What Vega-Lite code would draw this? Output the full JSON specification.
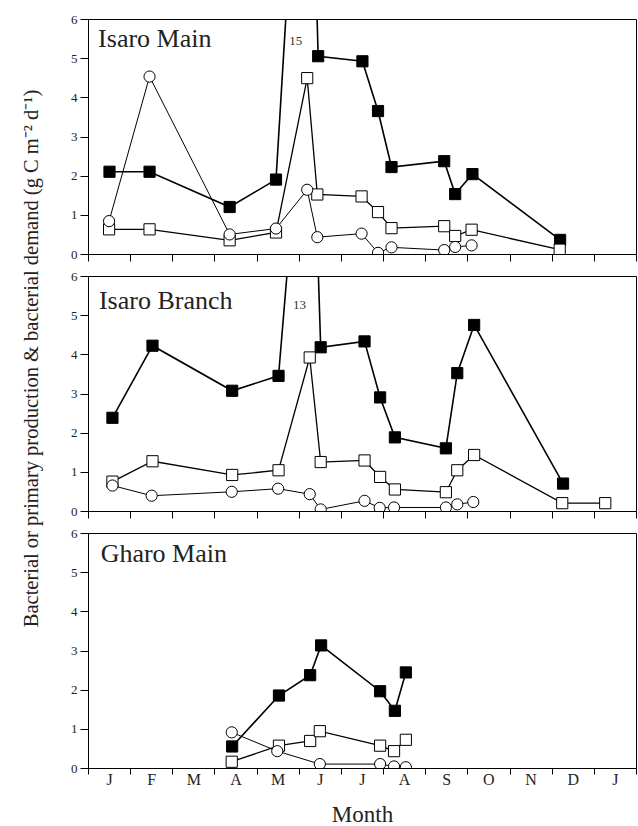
{
  "$schema": "https://vega.github.io/schema/vega-lite/v6.json",
  "background": "white",
  "padding": {"left": 20, "top": 12, "right": 0, "bottom": 0},
  "spacing": 22,
  "bounds": "flush",
  "config": {
    "view": {"stroke": "black", "strokeWidth": 1},
    "font": "Liberation Serif",
    "axis": {"grid": false, "domain": false, "tickColor": "black", "labelColor": "#222", "labelFont": "Liberation Serif", "titleFont": "Liberation Serif", "titleFontWeight": "normal", "titleColor": "#222"}
  },
  "datasets": {
    "panels": [
      {"panel": "Isaro Main", "peak": "15"},
      {"panel": "Isaro Branch", "peak": "13"},
      {"panel": "Gharo Main", "peak": ""}
    ],
    "obs": [
      {"panel": "Isaro Main", "series": "Bacterial demand", "month": 0.51, "value": 2.1},
      {"panel": "Isaro Main", "series": "Bacterial demand", "month": 1.46, "value": 2.1},
      {"panel": "Isaro Main", "series": "Bacterial demand", "month": 3.36, "value": 1.2},
      {"panel": "Isaro Main", "series": "Bacterial demand", "month": 4.46, "value": 1.9},
      {"panel": "Isaro Main", "series": "Bacterial demand", "month": 5.2, "value": 15},
      {"panel": "Isaro Main", "series": "Bacterial demand", "month": 5.46, "value": 5.05},
      {"panel": "Isaro Main", "series": "Bacterial demand", "month": 6.51, "value": 4.92},
      {"panel": "Isaro Main", "series": "Bacterial demand", "month": 6.88, "value": 3.65},
      {"panel": "Isaro Main", "series": "Bacterial demand", "month": 7.2, "value": 2.22},
      {"panel": "Isaro Main", "series": "Bacterial demand", "month": 8.45, "value": 2.37},
      {"panel": "Isaro Main", "series": "Bacterial demand", "month": 8.71, "value": 1.53},
      {"panel": "Isaro Main", "series": "Bacterial demand", "month": 9.12, "value": 2.04},
      {"panel": "Isaro Main", "series": "Bacterial demand", "month": 11.2, "value": 0.36},
      {"panel": "Isaro Main", "series": "Bacterial production", "month": 0.5, "value": 0.63},
      {"panel": "Isaro Main", "series": "Bacterial production", "month": 1.46, "value": 0.63},
      {"panel": "Isaro Main", "series": "Bacterial production", "month": 3.36, "value": 0.35},
      {"panel": "Isaro Main", "series": "Bacterial production", "month": 4.46, "value": 0.55},
      {"panel": "Isaro Main", "series": "Bacterial production", "month": 5.2, "value": 4.49},
      {"panel": "Isaro Main", "series": "Bacterial production", "month": 5.44, "value": 1.52},
      {"panel": "Isaro Main", "series": "Bacterial production", "month": 6.49, "value": 1.47},
      {"panel": "Isaro Main", "series": "Bacterial production", "month": 6.88, "value": 1.07},
      {"panel": "Isaro Main", "series": "Bacterial production", "month": 7.2, "value": 0.66},
      {"panel": "Isaro Main", "series": "Bacterial production", "month": 8.45, "value": 0.71},
      {"panel": "Isaro Main", "series": "Bacterial production", "month": 8.71, "value": 0.46},
      {"panel": "Isaro Main", "series": "Bacterial production", "month": 9.1, "value": 0.62},
      {"panel": "Isaro Main", "series": "Bacterial production", "month": 11.19, "value": 0.11},
      {"panel": "Isaro Main", "series": "Primary production", "month": 0.5, "value": 0.84},
      {"panel": "Isaro Main", "series": "Primary production", "month": 1.46, "value": 4.53},
      {"panel": "Isaro Main", "series": "Primary production", "month": 3.36, "value": 0.5},
      {"panel": "Isaro Main", "series": "Primary production", "month": 4.46, "value": 0.65},
      {"panel": "Isaro Main", "series": "Primary production", "month": 5.2, "value": 1.64},
      {"panel": "Isaro Main", "series": "Primary production", "month": 5.44, "value": 0.43},
      {"panel": "Isaro Main", "series": "Primary production", "month": 6.49, "value": 0.52},
      {"panel": "Isaro Main", "series": "Primary production", "month": 6.88, "value": 0.03},
      {"panel": "Isaro Main", "series": "Primary production", "month": 7.2, "value": 0.17},
      {"panel": "Isaro Main", "series": "Primary production", "month": 8.45, "value": 0.1},
      {"panel": "Isaro Main", "series": "Primary production", "month": 8.71, "value": 0.18},
      {"panel": "Isaro Main", "series": "Primary production", "month": 9.1, "value": 0.22},
      {"panel": "Isaro Branch", "series": "Bacterial demand", "month": 0.58, "value": 2.38},
      {"panel": "Isaro Branch", "series": "Bacterial demand", "month": 1.53, "value": 4.22},
      {"panel": "Isaro Branch", "series": "Bacterial demand", "month": 3.42, "value": 3.07},
      {"panel": "Isaro Branch", "series": "Bacterial demand", "month": 4.52, "value": 3.45},
      {"panel": "Isaro Branch", "series": "Bacterial demand", "month": 5.26, "value": 13},
      {"panel": "Isaro Branch", "series": "Bacterial demand", "month": 5.52, "value": 4.18},
      {"panel": "Isaro Branch", "series": "Bacterial demand", "month": 6.56, "value": 4.33},
      {"panel": "Isaro Branch", "series": "Bacterial demand", "month": 6.93, "value": 2.9},
      {"panel": "Isaro Branch", "series": "Bacterial demand", "month": 7.28, "value": 1.88},
      {"panel": "Isaro Branch", "series": "Bacterial demand", "month": 8.49, "value": 1.6},
      {"panel": "Isaro Branch", "series": "Bacterial demand", "month": 8.76, "value": 3.52},
      {"panel": "Isaro Branch", "series": "Bacterial demand", "month": 9.16, "value": 4.75},
      {"panel": "Isaro Branch", "series": "Bacterial demand", "month": 11.27, "value": 0.7},
      {"panel": "Isaro Branch", "series": "Bacterial production", "month": 0.58, "value": 0.75},
      {"panel": "Isaro Branch", "series": "Bacterial production", "month": 1.53, "value": 1.27},
      {"panel": "Isaro Branch", "series": "Bacterial production", "month": 3.42, "value": 0.92},
      {"panel": "Isaro Branch", "series": "Bacterial production", "month": 4.52, "value": 1.04},
      {"panel": "Isaro Branch", "series": "Bacterial production", "month": 5.26, "value": 3.92},
      {"panel": "Isaro Branch", "series": "Bacterial production", "month": 5.52, "value": 1.25},
      {"panel": "Isaro Branch", "series": "Bacterial production", "month": 6.56, "value": 1.29},
      {"panel": "Isaro Branch", "series": "Bacterial production", "month": 6.93, "value": 0.87},
      {"panel": "Isaro Branch", "series": "Bacterial production", "month": 7.28, "value": 0.55},
      {"panel": "Isaro Branch", "series": "Bacterial production", "month": 8.49, "value": 0.48},
      {"panel": "Isaro Branch", "series": "Bacterial production", "month": 8.76, "value": 1.04},
      {"panel": "Isaro Branch", "series": "Bacterial production", "month": 9.16, "value": 1.43},
      {"panel": "Isaro Branch", "series": "Bacterial production", "month": 11.25, "value": 0.2},
      {"panel": "Isaro Branch", "series": "Bacterial production", "month": 12.27, "value": 0.2},
      {"panel": "Isaro Branch", "series": "Primary production", "month": 0.58, "value": 0.65},
      {"panel": "Isaro Branch", "series": "Primary production", "month": 1.51, "value": 0.39},
      {"panel": "Isaro Branch", "series": "Primary production", "month": 3.41, "value": 0.49},
      {"panel": "Isaro Branch", "series": "Primary production", "month": 4.51, "value": 0.57},
      {"panel": "Isaro Branch", "series": "Primary production", "month": 5.26, "value": 0.43},
      {"panel": "Isaro Branch", "series": "Primary production", "month": 5.52, "value": 0.04},
      {"panel": "Isaro Branch", "series": "Primary production", "month": 6.56, "value": 0.26},
      {"panel": "Isaro Branch", "series": "Primary production", "month": 6.92, "value": 0.08},
      {"panel": "Isaro Branch", "series": "Primary production", "month": 7.26, "value": 0.09},
      {"panel": "Isaro Branch", "series": "Primary production", "month": 8.49, "value": 0.09},
      {"panel": "Isaro Branch", "series": "Primary production", "month": 8.76, "value": 0.17},
      {"panel": "Isaro Branch", "series": "Primary production", "month": 9.14, "value": 0.23},
      {"panel": "Gharo Main", "series": "Bacterial demand", "month": 3.42, "value": 0.55},
      {"panel": "Gharo Main", "series": "Bacterial demand", "month": 4.53, "value": 1.85},
      {"panel": "Gharo Main", "series": "Bacterial demand", "month": 5.27, "value": 2.37},
      {"panel": "Gharo Main", "series": "Bacterial demand", "month": 5.53, "value": 3.13},
      {"panel": "Gharo Main", "series": "Bacterial demand", "month": 6.93, "value": 1.96},
      {"panel": "Gharo Main", "series": "Bacterial demand", "month": 7.28, "value": 1.46},
      {"panel": "Gharo Main", "series": "Bacterial demand", "month": 7.54, "value": 2.44},
      {"panel": "Gharo Main", "series": "Bacterial production", "month": 3.41, "value": 0.16},
      {"panel": "Gharo Main", "series": "Bacterial production", "month": 4.53, "value": 0.57},
      {"panel": "Gharo Main", "series": "Bacterial production", "month": 5.27, "value": 0.69},
      {"panel": "Gharo Main", "series": "Bacterial production", "month": 5.5, "value": 0.94},
      {"panel": "Gharo Main", "series": "Bacterial production", "month": 6.93, "value": 0.57},
      {"panel": "Gharo Main", "series": "Bacterial production", "month": 7.26, "value": 0.43},
      {"panel": "Gharo Main", "series": "Bacterial production", "month": 7.54, "value": 0.72},
      {"panel": "Gharo Main", "series": "Primary production", "month": 3.41, "value": 0.91},
      {"panel": "Gharo Main", "series": "Primary production", "month": 4.49, "value": 0.43},
      {"panel": "Gharo Main", "series": "Primary production", "month": 5.5, "value": 0.1},
      {"panel": "Gharo Main", "series": "Primary production", "month": 6.93, "value": 0.1},
      {"panel": "Gharo Main", "series": "Primary production", "month": 7.26, "value": 0.04},
      {"panel": "Gharo Main", "series": "Primary production", "month": 7.54, "value": 0.02}
    ]
  },
  "vconcat": [
    {
      "width": 548, "height": 235,
      "layer": [
        {"data": {"name": "obs"}, "transform": [{"filter": "datum.panel === 'Isaro Main'"}],
         "mark": {"type": "line", "clip": true, "color": "black"},
         "encoding": {
           "x": {"field": "month", "type": "quantitative", "scale": {"domain": [0, 13], "nice": false}, "axis": {"values": [0,1,2,3,4,5,6,7,8,9,10,11,12,13], "labels": false, "title": null, "tickSize": 7}},
           "y": {"field": "value", "type": "quantitative", "scale": {"domain": [0, 6], "nice": false}, "axis": {"values": [0,1,2,3,4,5,6], "tickSize": 8, "labelPadding": 3, "labelFontSize": 13, "title": null}},
           "detail": {"field": "series"},
           "strokeWidth": {"field": "series", "scale": {"domain": ["Bacterial demand", "Bacterial production", "Primary production"], "range": [1.6, 1, 1]}, "legend": null}}},
        {"data": {"name": "obs"}, "transform": [{"filter": "datum.panel === 'Isaro Main'"}],
         "mark": {"type": "point", "clip": true, "opacity": 1, "stroke": "black", "strokeWidth": 1, "size": 125},
         "encoding": {
           "x": {"field": "month", "type": "quantitative", "axis": {"values": [0,1,2,3,4,5,6,7,8,9,10,11,12,13], "labels": false, "title": null, "tickSize": 7}},
           "y": {"field": "value", "type": "quantitative", "axis": {"values": [0,1,2,3,4,5,6], "tickSize": 8, "labelPadding": 3, "labelFontSize": 13, "title": null}},
           "shape": {"field": "series", "scale": {"domain": ["Bacterial demand", "Bacterial production", "Primary production"], "range": ["square", "square", "circle"]}, "legend": null},
           "fill": {"field": "series", "scale": {"domain": ["Bacterial demand", "Bacterial production", "Primary production"], "range": ["black", "white", "white"]}, "legend": null}}},
        {"data": {"name": "panels"}, "transform": [{"filter": "datum.panel === 'Isaro Main'"}],
         "mark": {"type": "text", "align": "left", "baseline": "alphabetic", "fontSize": 26, "fill": "#222"},
         "encoding": {
           "x": {"datum": 0.24, "type": "quantitative", "axis": {"values": [0,1,2,3,4,5,6,7,8,9,10,11,12,13], "labels": false, "title": null, "tickSize": 7}},
           "y": {"datum": 5.28, "type": "quantitative", "axis": {"values": [0,1,2,3,4,5,6], "tickSize": 8, "labelPadding": 3, "labelFontSize": 13, "title": null}},
           "text": {"field": "panel"}}},
        {"data": {"name": "panels"}, "transform": [{"filter": "datum.panel === 'Isaro Main'"}],
         "mark": {"type": "text", "align": "center", "baseline": "middle", "fontSize": 13, "fill": "#333"},
         "encoding": {
           "x": {"datum": 4.93, "type": "quantitative", "axis": {"values": [0,1,2,3,4,5,6,7,8,9,10,11,12,13], "labels": false, "title": null, "tickSize": 7}},
           "y": {"datum": 5.44, "type": "quantitative", "axis": {"values": [0,1,2,3,4,5,6], "tickSize": 8, "labelPadding": 3, "labelFontSize": 13, "title": null}},
           "text": {"field": "peak"}}}
      ]
    },
    {
      "width": 548, "height": 235,
      "layer": [
        {"data": {"name": "obs"}, "transform": [{"filter": "datum.panel === 'Isaro Branch'"}],
         "mark": {"type": "line", "clip": true, "color": "black"},
         "encoding": {
           "x": {"field": "month", "type": "quantitative", "scale": {"domain": [0, 13], "nice": false}, "axis": {"values": [0,1,2,3,4,5,6,7,8,9,10,11,12,13], "labels": false, "title": null, "tickSize": 7}},
           "y": {"field": "value", "type": "quantitative", "scale": {"domain": [0, 6], "nice": false}, "axis": {"values": [0,1,2,3,4,5,6], "tickSize": 8, "labelPadding": 3, "labelFontSize": 13, "title": "Bacterial or primary production & bacterial demand (g C m⁻² d⁻¹)", "titleFontSize": 20.5, "titlePadding": 29, "titleY": 82}},
           "detail": {"field": "series"},
           "strokeWidth": {"field": "series", "scale": {"domain": ["Bacterial demand", "Bacterial production", "Primary production"], "range": [1.6, 1, 1]}, "legend": null}}},
        {"data": {"name": "obs"}, "transform": [{"filter": "datum.panel === 'Isaro Branch'"}],
         "mark": {"type": "point", "clip": true, "opacity": 1, "stroke": "black", "strokeWidth": 1, "size": 125},
         "encoding": {
           "x": {"field": "month", "type": "quantitative", "axis": {"values": [0,1,2,3,4,5,6,7,8,9,10,11,12,13], "labels": false, "title": null, "tickSize": 7}},
           "y": {"field": "value", "type": "quantitative", "axis": {"values": [0,1,2,3,4,5,6], "tickSize": 8, "labelPadding": 3, "labelFontSize": 13, "title": "Bacterial or primary production & bacterial demand (g C m⁻² d⁻¹)", "titleFontSize": 20.5, "titlePadding": 29, "titleY": 82}},
           "shape": {"field": "series", "scale": {"domain": ["Bacterial demand", "Bacterial production", "Primary production"], "range": ["square", "square", "circle"]}, "legend": null},
           "fill": {"field": "series", "scale": {"domain": ["Bacterial demand", "Bacterial production", "Primary production"], "range": ["black", "white", "white"]}, "legend": null}}},
        {"data": {"name": "panels"}, "transform": [{"filter": "datum.panel === 'Isaro Branch'"}],
         "mark": {"type": "text", "align": "left", "baseline": "alphabetic", "fontSize": 26, "fill": "#222"},
         "encoding": {
           "x": {"datum": 0.26, "type": "quantitative", "axis": {"values": [0,1,2,3,4,5,6,7,8,9,10,11,12,13], "labels": false, "title": null, "tickSize": 7}},
           "y": {"datum": 5.16, "type": "quantitative", "axis": {"values": [0,1,2,3,4,5,6], "tickSize": 8, "labelPadding": 3, "labelFontSize": 13, "title": "Bacterial or primary production & bacterial demand (g C m⁻² d⁻¹)", "titleFontSize": 20.5, "titlePadding": 29, "titleY": 82}},
           "text": {"field": "panel"}}},
        {"data": {"name": "panels"}, "transform": [{"filter": "datum.panel === 'Isaro Branch'"}],
         "mark": {"type": "text", "align": "center", "baseline": "middle", "fontSize": 13, "fill": "#333"},
         "encoding": {
           "x": {"datum": 5.02, "type": "quantitative", "axis": {"values": [0,1,2,3,4,5,6,7,8,9,10,11,12,13], "labels": false, "title": null, "tickSize": 7}},
           "y": {"datum": 5.27, "type": "quantitative", "axis": {"values": [0,1,2,3,4,5,6], "tickSize": 8, "labelPadding": 3, "labelFontSize": 13, "title": "Bacterial or primary production & bacterial demand (g C m⁻² d⁻¹)", "titleFontSize": 20.5, "titlePadding": 29, "titleY": 82}},
           "text": {"field": "peak"}}}
      ]
    },
    {
      "width": 548, "height": 235,
      "layer": [
        {"data": {"name": "obs"}, "transform": [{"filter": "datum.panel === 'Gharo Main'"}],
         "mark": {"type": "line", "clip": true, "color": "black"},
         "encoding": {
           "x": {"field": "month", "type": "quantitative", "scale": {"domain": [0, 13], "nice": false}, "axis": {"values": [0,1,2,3,4,5,6,7,8,9,10,11,12,13], "tickSize": 6, "labelExpr": "['J','F','M','A','M','J','J','A','S','O','N','D','J',''][datum.value]", "labelOffset": 21, "labelFlush": false, "labelOverlap": false, "labelFontSize": 16, "labelPadding": -3, "title": "Month", "titleFontSize": 23, "titlePadding": 16}},
           "y": {"field": "value", "type": "quantitative", "scale": {"domain": [0, 6], "nice": false}, "axis": {"values": [0,1,2,3,4,5,6], "tickSize": 8, "labelPadding": 3, "labelFontSize": 13, "title": null}},
           "detail": {"field": "series"},
           "strokeWidth": {"field": "series", "scale": {"domain": ["Bacterial demand", "Bacterial production", "Primary production"], "range": [1.6, 1, 1]}, "legend": null}}},
        {"data": {"name": "obs"}, "transform": [{"filter": "datum.panel === 'Gharo Main'"}],
         "mark": {"type": "point", "clip": true, "opacity": 1, "stroke": "black", "strokeWidth": 1, "size": 125},
         "encoding": {
           "x": {"field": "month", "type": "quantitative", "axis": {"values": [0,1,2,3,4,5,6,7,8,9,10,11,12,13], "tickSize": 6, "labelExpr": "['J','F','M','A','M','J','J','A','S','O','N','D','J',''][datum.value]", "labelOffset": 21, "labelFlush": false, "labelOverlap": false, "labelFontSize": 16, "labelPadding": -3, "title": "Month", "titleFontSize": 23, "titlePadding": 16}},
           "y": {"field": "value", "type": "quantitative", "axis": {"values": [0,1,2,3,4,5,6], "tickSize": 8, "labelPadding": 3, "labelFontSize": 13, "title": null}},
           "shape": {"field": "series", "scale": {"domain": ["Bacterial demand", "Bacterial production", "Primary production"], "range": ["square", "square", "circle"]}, "legend": null},
           "fill": {"field": "series", "scale": {"domain": ["Bacterial demand", "Bacterial production", "Primary production"], "range": ["black", "white", "white"]}, "legend": null}}},
        {"data": {"name": "panels"}, "transform": [{"filter": "datum.panel === 'Gharo Main'"}],
         "mark": {"type": "text", "align": "left", "baseline": "alphabetic", "fontSize": 26, "fill": "#222"},
         "encoding": {
           "x": {"datum": 0.3, "type": "quantitative", "axis": {"values": [0,1,2,3,4,5,6,7,8,9,10,11,12,13], "tickSize": 6, "labelExpr": "['J','F','M','A','M','J','J','A','S','O','N','D','J',''][datum.value]", "labelOffset": 21, "labelFlush": false, "labelOverlap": false, "labelFontSize": 16, "labelPadding": -3, "title": "Month", "titleFontSize": 23, "titlePadding": 16}},
           "y": {"datum": 5.25, "type": "quantitative", "axis": {"values": [0,1,2,3,4,5,6], "tickSize": 8, "labelPadding": 3, "labelFontSize": 13, "title": null}},
           "text": {"field": "panel"}}}
      ]
    }
  ]
}
